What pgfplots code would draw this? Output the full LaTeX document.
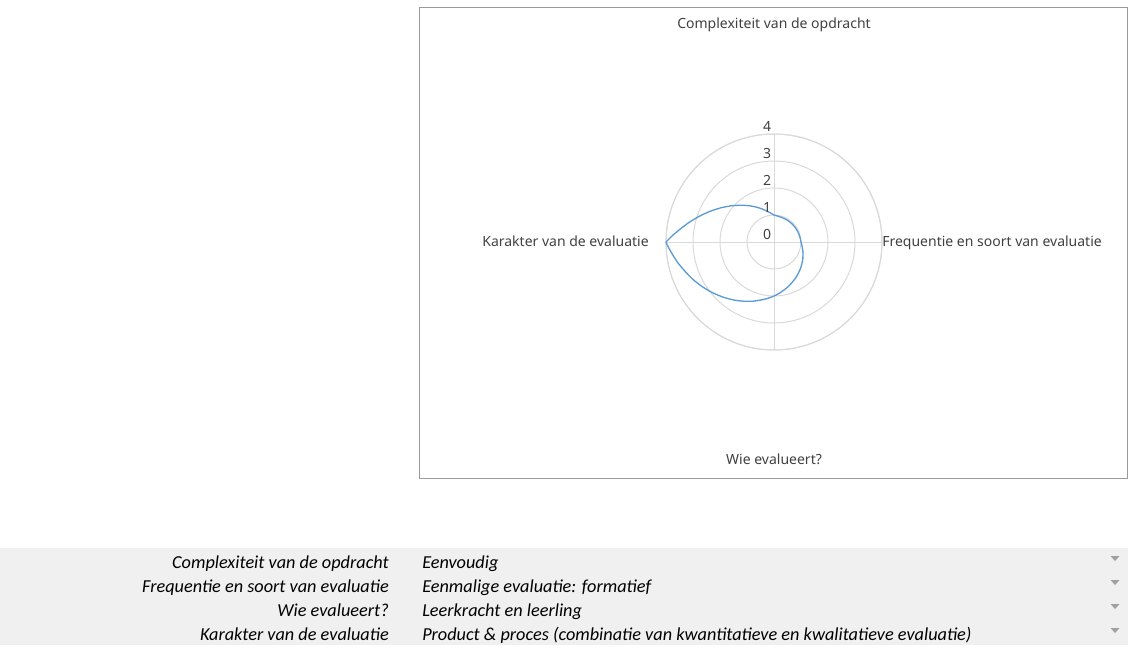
\documentclass[border=0pt]{standalone}
\usepackage{pgfplots}
\pgfplotsset{compat=1.18}
\usepgfplotslibrary{polar}
\usepgfmodule{nonlineartransformations}
\usepackage{fontspec}
\setmainfont{Noto Sans}
\newfontfamily\calibri{Carlito}
\definecolor{serieblue}{HTML}{5B9BD5}
\definecolor{gridgray}{HTML}{D9D9D9}
\definecolor{txtgray}{HTML}{404040}
\definecolor{bandgray}{HTML}{F0F0F0}
\definecolor{framegray}{HTML}{9A9A9A}
\definecolor{arrowgray}{HTML}{A0A0A0}
% radar line: angle (deg) along x, radius on a log scale along y,
% mapped onto the polar chart centred at (774px,242px), 27px per unit
\makeatletter
\newif\ifrt@ok
\def\radartrafo{%
  \rt@oktrue
  \ifdim\pgf@x>720pt \rt@okfalse\fi
  \ifdim\pgf@x<-360pt \rt@okfalse\fi
  \ifdim\pgf@y>300pt \rt@okfalse\fi
  \ifdim\pgf@y<-300pt \rt@okfalse\fi
  \ifrt@ok
    \edef\rt@ang{\pgf@sys@tonumber\pgf@x}%
    \edef\rt@v{\pgf@sys@tonumber\pgf@y}%
    \pgfmathparse{20.25*exp(\rt@v*0.0138629436)}\let\rt@rad\pgfmathresult
    \pgfmathparse{400.5+\rt@rad*cos(\rt@ang)}\let\rt@xx\pgfmathresult
    \pgfmathparse{-181.5+\rt@rad*sin(\rt@ang)}\let\rt@yy\pgfmathresult
    \pgf@x=\rt@xx pt\relax
    \pgf@y=\rt@yy pt\relax
  \else
    \pgf@x=400.5pt\relax
    \pgf@y=-181.5pt\relax
  \fi
}
\makeatother
\begin{document}
\begin{tikzpicture}
\path[use as bounding box] (0pt,0pt) rectangle (858.75pt,-490.5pt);
\begin{scope}[x=0.75pt,y=-0.75pt]
\fill[bandgray] (0,548) rectangle (1128,645);
\draw[framegray,line width=0.75pt] (419.5,7.5) rectangle (1127.5,478.5);
\end{scope}
\begin{polaraxis}[
  at={(580.5pt,-181.5pt)}, anchor=origin,
  scale only axis, width=162pt, height=162pt,
  ymin=0, ymax=4, ytick={1,2,3,4}, yticklabels={},
  xtick={0,90,180,270}, xticklabels={},
  grid=major, major grid style={gridgray, line width=0.75pt},
  x axis line style={gridgray, line width=0.75pt},
  y axis line style={draw=none},
  major tick length=0pt,
]
\end{polaraxis}
\begin{axis}[
  at={(0pt,0pt)}, anchor=south west, disabledatascaling,
  scale only axis, width=360pt, height=100pt,
  xmin=-180, xmax=180, ymode=log, ymin=1, ymax=4,
  hide axis, clip=false,
]
\addplot[serieblue, line width=1pt, smooth, tension=0.25,
  /utils/exec={\pgftransformnonlinear{\radartrafo}}]
  coordinates {(180,4) (90,1) (0,1) (-90,2) (-180,4)};
\end{axis}
\begin{scope}[x=0.75pt,y=-0.75pt]
\foreach \r in {0,1,2,3,4}{
  \node[txtgray, font=\fontsize{10.5}{12}\selectfont, inner sep=0pt, anchor=base east] at (771.5,{239.5-27*\r}) {\r};
}
\tikzset{lab/.style={txtgray, font=\fontsize{10.5}{12}\selectfont, inner sep=0pt}}
\node[lab, anchor=base] at (774,28.5) {Complexiteit van de opdracht};
\node[lab, anchor=base] at (774,464.5) {Wie evalueert?};
\node[lab, anchor=base east] at (649,246.5) {Karakter van de evaluatie};
\node[lab, anchor=base west] at (882,246.5) {Frequentie en soort van evaluatie};
\tikzset{row/.style={font=\calibri\itshape\fontsize{13.7}{16}\selectfont, inner sep=0pt}}
\node[row, anchor=base east] at (389,568) {Complexiteit van de opdracht};
\node[row, anchor=base east] at (389,592) {Frequentie en soort van evaluatie};
\node[row, anchor=base east] at (389,616) {Wie evalueert?};
\node[row, anchor=base east] at (389,640) {Karakter van de evaluatie};
\node[row, anchor=base west] at (422,568) {Eenvoudig};
\node[row, anchor=base west] at (422,592) {Eenmalige evaluatie: formatief};
\node[row, anchor=base west] at (422,616) {Leerkracht en leerling};
\node[row, anchor=base west] at (422,640) {Product \& proces (combinatie van kwantitatieve en kwalitatieve evaluatie)};
\foreach \yy in {558,582,606,630}{
  \fill[arrowgray] (1110.5,\yy-2) -- (1119.5,\yy-2) -- (1115,\yy+3) -- cycle;
}
\end{scope}
\end{tikzpicture}
\end{document}
